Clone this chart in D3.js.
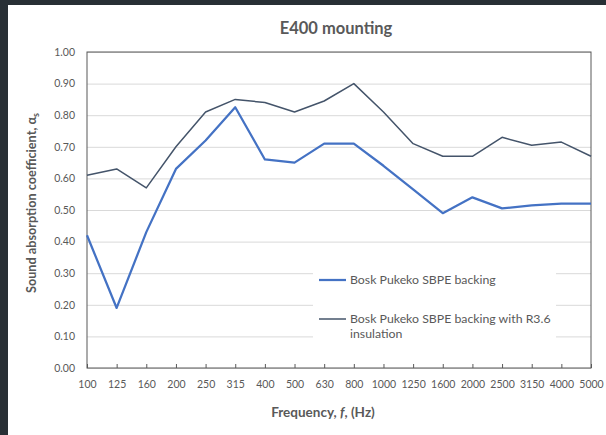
<!DOCTYPE html>
<html>
<head>
<meta charset="utf-8">
<script src="https://cdn.jsdelivr.net/npm/d3@7/dist/d3.min.js"></script>
<style>
  html, body { margin: 0; padding: 0; background: #282f35; }
  svg { display: block; }
  text { font-family: Lato, "Open Sans", sans-serif; fill: #595959; }
</style>
</head>
<body>
<svg width="606" height="435"></svg>
<script>
// frequency bands (Hz)
const frequencies = ['100', '125', '160', '200', '250', '315', '400', '500', '630', '800',
    '1000', '1250', '1600', '2000', '2500', '3150', '4000', '5000'];

// absorption coefficients
const sbpeBacking = [0.42, 0.19, 0.43, 0.63, 0.72, 0.825, 0.66, 0.65, 0.71, 0.71,
    0.64, 0.565, 0.49, 0.54, 0.505, 0.515, 0.52, 0.52];
const sbpeWithInsulation = [0.61, 0.63, 0.57, 0.70, 0.81, 0.85, 0.84, 0.81, 0.845, 0.90,
    0.81, 0.71, 0.67, 0.67, 0.73, 0.705, 0.715, 0.67];

const yTicks = [0, 0.1, 0.2, 0.3, 0.4, 0.5, 0.6, 0.7, 0.8, 0.9, 1.0];

const series = [
    { name: 'Bosk Pukeko SBPE backing', values: sbpeBacking, color: '#4472c4', width: 2.25 },
    { name: 'Bosk Pukeko SBPE backing with R3.6 insulation', values: sbpeWithInsulation, color: '#44546a', width: 1.5 }
];

const svg = d3.select('svg');
const margin = { top: 52, right: 15, bottom: 67, left: 87 };
const width = 606 - margin.left - margin.right;
const height = 435 - margin.top - margin.bottom;

// white chart canvas, dark frame shows at top and left
svg.append('rect')
    .attr('x', 8).attr('y', 5)
    .attr('width', 606 - 8).attr('height', 435 - 5)
    .attr('fill', '#ffffff');

const x = d3.scalePoint()
    .domain(frequencies)
    .range([0, width])
    .padding(0);

const y = d3.scaleLinear()
    .domain([0, 1])
    .range([height, 0]);

const g = svg.append('g')
    .attr('transform', `translate(${margin.left},${margin.top})`);

// gridlines
g.append('g')
    .attr('class', 'grid')
    .call(d3.axisLeft(y).tickValues(yTicks).tickSize(-width).tickFormat(''))
    .call(s => s.select('.domain').remove())
    .call(s => s.selectAll('line').attr('stroke', '#d9d9d9').attr('stroke-width', 1));

// y tick labels
g.append('g')
    .call(d3.axisLeft(y).tickValues(yTicks).tickSize(0).tickPadding(12).tickFormat(d3.format('.2f')))
    .call(s => s.select('.domain').remove())
    .call(s => s.selectAll('text').style('font-size', '10.5px').attr('fill', '#595959'));

// x axis with inward ticks
g.append('g')
    .attr('transform', `translate(0,${height})`)
    .call(d3.axisBottom(x).tickSizeInner(-4).tickSizeOuter(0).tickPadding(13))
    .call(s => s.select('.domain').remove())
    .call(s => s.selectAll('line').attr('stroke', '#595959'))
    .call(s => s.selectAll('text').style('font-size', '10.5px').attr('fill', '#595959'));

// plot border
g.append('rect')
    .attr('width', width).attr('height', height)
    .attr('fill', 'none')
    .attr('stroke', '#595959')
    .attr('stroke-width', 1);

const line = d3.line()
    .x((d, i) => x(frequencies[i]))
    .y(d => y(d));

g.selectAll('.series')
    .data(series.slice().reverse())
    .join('path')
        .attr('class', 'series')
        .attr('fill', 'none')
        .attr('stroke', d => d.color)
        .attr('stroke-width', d => d.width)
        .attr('stroke-linejoin', 'round')
        .attr('d', d => line(d.values));

// legend
const legend = svg.append('g')
    .attr('transform', 'translate(313,262)');

legend.append('rect')
    .attr('width', 243).attr('height', 83)
    .attr('fill', '#ffffff');

const items = legend.selectAll('.item')
    .data(series)
    .join('g')
        .attr('class', 'item')
        .attr('transform', (d, i) => `translate(0,${i === 0 ? 18 : 57})`);

items.append('line')
    .attr('x1', 6).attr('x2', 33)
    .attr('stroke', d => d.color)
    .attr('stroke-width', d => d.width);

items.append('text')
    .attr('x', 37)
    .attr('y', 4)
    .style('font-size', '12.3px')
    .each(function(d, i) {
        const t = d3.select(this);
        if (i === 0) {
            t.text(d.name);
        } else {
            t.append('tspan').attr('x', 37).attr('dy', 0).text('Bosk Pukeko SBPE backing with R3.6');
            t.append('tspan').attr('x', 37).attr('dy', 15).text('insulation');
        }
    });

// title
svg.append('text')
    .attr('x', 336).attr('y', 34)
    .attr('text-anchor', 'middle')
    .style('font-size', '16.5px')
    .style('font-weight', 'bold')
    .text('E400 mounting');

// x axis title
const xt = svg.append('text')
    .attr('x', 323).attr('y', 417)
    .attr('text-anchor', 'middle')
    .style('font-size', '13.5px')
    .style('font-weight', 'bold');
xt.append('tspan').text('Frequency, ');
xt.append('tspan').style('font-style', 'italic').text('f');
xt.append('tspan').text(', (Hz)');

// y axis title
const yt = svg.append('text')
    .attr('transform', 'translate(36,203) rotate(-90)')
    .attr('text-anchor', 'middle')
    .style('font-size', '12.7px')
    .style('font-weight', 'bold');
yt.append('tspan').text('Sound absorption coefficient, α');
yt.append('tspan').attr('dy', 3).style('font-size', '9px').text('s');
</script>
</body>
</html>
